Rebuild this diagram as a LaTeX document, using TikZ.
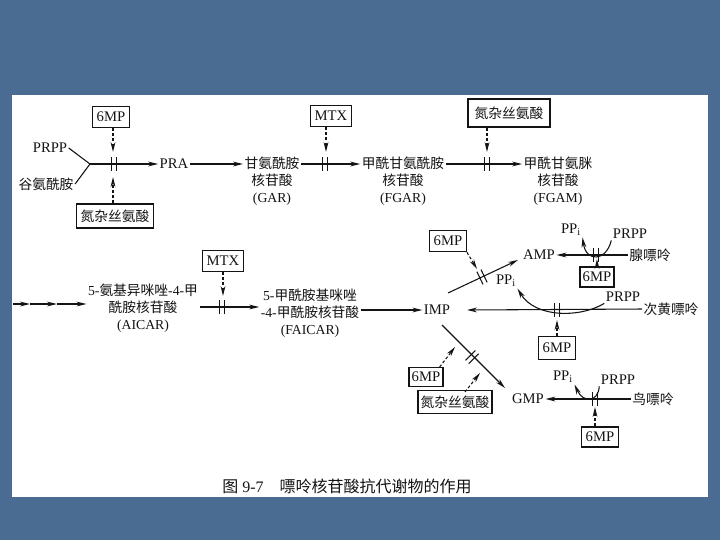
\documentclass[tikz,border=0pt]{standalone}
\usepackage{fontspec}
\setmainfont{Liberation Serif}
\newfontfamily\cjk{Noto Sans CJK SC}
\usetikzlibrary{arrows.meta}
\definecolor{slidebg}{RGB}{74,108,146}
\definecolor{ink}{RGB}{20,20,20}
\newcommand\zhtxt[1]{{\cjk #1}}
\begin{document}
\begin{tikzpicture}[x=0.75pt,y=-0.75pt,
  lat/.style={font=\fontsize{11}{12}\selectfont, text=ink, inner sep=1pt},
  cnl/.style={font=\cjk\fontsize{10.3}{12}\selectfont, text=ink, inner sep=1pt},
  multi/.style={font=\fontsize{10.3}{12.6}\selectfont, align=center, text=ink, inner sep=1pt},
  box/.style={draw=ink, line width=1pt, inner sep=3pt, minimum height=16pt, font=\fontsize{11}{12}\selectfont, text=ink},
  cbox/.style={box, font=\cjk\fontsize{10.3}{12}\selectfont},
  ln/.style={draw=ink, line width=0.8pt},
  arr/.style={ln, -{Stealth[length=7.5pt,width=3.6pt]}},
  darr/.style={arr, dash pattern=on 2.2pt off 1.6pt},
  blk/.pic={\draw[ink, line width=0.8pt] (-2.3,-7)--(-2.3,7) (2.3,-7)--(2.3,7);}
]
\useasboundingbox (0,0) rectangle (720,540);
\fill[slidebg] (0,0) rectangle (720,540);
\fill[white] (12,95) rectangle (708,497);

% ---------- row 1 ----------
\coordinate (row1) at (0,164);
\node[lat] (prpp1) at (50,148) {PRPP};
\node[cnl] (gln) at (46,184) {谷氨酰胺};
\coordinate (j) at (90,164);
\draw[ln] (prpp1.east) -- (j);
\draw[ln] (gln.east) -- (j);
\node[lat] (pra) at (174,164) {PRA};
\draw[arr] (j) -- (pra.west);
\pic at (114,164) {blk};
\node[box] (mp1) at (111,117) {6MP};
\coordinate (t1) at (113,152);
\draw[darr] (mp1.south -| t1) -- (t1);
\node[cbox, minimum height=18pt] (aza1) at (115,216) {氮杂丝氨酸};
\coordinate (u1) at (113,177);
\draw[darr] (aza1.north -| u1) -- (u1);

\node[multi] (gar) at (272,181) {\zhtxt{甘氨酰胺}\\\zhtxt{核苷酸}\\(GAR)};
\draw[arr] (pra.east) -- (gar.west |- row1);
\node[multi] (fgar) at (403,181) {\zhtxt{甲酰甘氨酰胺}\\\zhtxt{核苷酸}\\(FGAR)};
\draw[arr] (gar.east |- row1) -- (fgar.west |- row1);
\pic at (325,164) {blk};
\node[box] (mtx1) at (331,116) {MTX};
\coordinate (t2) at (326,152);
\draw[darr] (mtx1.south -| t2) -- (t2);

\node[multi] (fgam) at (558,181) {\zhtxt{甲酰甘氨脒}\\\zhtxt{核苷酸}\\(FGAM)};
\draw[arr] (fgar.east |- row1) -- (fgam.west |- row1);
\pic at (487,164) {blk};
\node[cbox, minimum height=21pt, inner sep=5pt] (aza2) at (509,113) {氮杂丝氨酸};
\coordinate (t3) at (487,152);
\draw[darr] (aza2.south -| t3) -- (t3);

% ---------- row 2 ----------
\node[multi] (aicar) at (143,308) {5-\zhtxt{氨基异咪唑}-4-\zhtxt{甲}\\\zhtxt{酰胺核苷酸}\\(AICAR)};
\coordinate (c0) at (13,304);
\coordinate (c1) at (30,304);
\coordinate (c2) at (57,304);
\draw[arr] (c0) -- (c1);
\draw[arr] (c1) -- (c2);
\draw[arr] (c2) -- (aicar.west |- c0);
\node[multi] (faicar) at (310,313) {5-\zhtxt{甲酰胺基咪唑}\\-4-\zhtxt{甲酰胺核苷酸}\\(FAICAR)};
\coordinate (row2) at (0,307);
\draw[arr] (aicar.east |- row2) -- (faicar.west |- row2);
\pic at (222,307) {blk};
\node[box] (mtx2) at (223,261) {MTX};
\coordinate (t4) at (223,296);
\draw[darr] (mtx2.south) -- (t4);

\node[lat] (imp) at (437,310) {IMP};
\draw[arr] (faicar.east |- imp) -- (imp.west);

% AMP branch
\node[lat] (amp) at (539,255) {AMP};
\coordinate (ia) at (448,293);
\coordinate (ib) at (518,260);
\draw[arr] (ia) -- (ib);
\pic[rotate=25.6] at (482,277) {blk};
\node[lat] (ppi1) at (506,281) {PP\textsubscript{i}};
\node[box] (mp2) at (448,241) {6MP};
\coordinate (t5) at (477,269);
\draw[darr] (mp2.south east) -- (t5);

\node[cnl] (ade) at (650,255) {腺嘌呤};
\draw[arr] (ade.west) -- (amp.east);
\pic at (596,255) {blk};
\node[lat] (ppiA) at (571,230) {PP\textsubscript{i}};
\node[lat] (prppA) at (630,234) {PRPP};
\draw[arr] (prppA.south west) .. controls (606,262) and (586,262) .. (ppiA.south east);
\node[box, minimum height=15pt, inner sep=2pt] (mpA) at (597,277) {6MP};
\coordinate (t6) at (597,259);
\draw[arr] (mpA.north) -- (t6);

% hypoxanthine
\node[cnl] (hx) at (671,309) {次黄嘌呤};
\coordinate (t7) at (467,310);
\draw[arr] (hx.west) -- (t7);
\pic at (557,310) {blk};
\node[lat] (prppB) at (623,297) {PRPP};
\draw[arr] (prppB.south west) .. controls (580,318) and (535,318) .. (ppi1.south east);
\node[box, minimum height=17pt] (mpB) at (557,348) {6MP};
\coordinate (t8) at (557,320);
\draw[darr] (mpB.north) -- (t8);

% GMP branch
\node[lat] (gmp) at (528,399) {GMP};
\coordinate (ga) at (442,325);
\coordinate (gb) at (505,388);
\draw[arr] (ga) -- (gb);
\pic[rotate=-45] at (472,357) {blk};
\node[box, minimum height=14pt, inner sep=2pt] (mp3) at (426,377) {6MP};
\coordinate (t9) at (455,347);
\draw[darr] (mp3.north east) ++(-4,0) -- (t9);
\node[cbox, minimum height=17pt, inner sep=2pt] (aza3) at (455,402) {氮杂丝氨酸};
\coordinate (t10) at (480,373);
\coordinate (s10) at (465,392);
\draw[darr] (s10) -- (t10);

\node[cnl] (gua) at (653,399) {鸟嘌呤};
\draw[arr] (gua.west) -- (gmp.east);
\pic at (595,399) {blk};
\node[lat] (ppiC) at (563,377) {PP\textsubscript{i}};
\node[lat] (prppC) at (618,380) {PRPP};
\draw[arr] (prppC.south west) .. controls (598,403) and (583,403) .. (ppiC.south east);
\node[box, minimum height=15pt] (mpC) at (600,437) {6MP};
\coordinate (t11) at (595,407);
\draw[darr] (mpC.north -| t11) -- (t11);

% caption
\node[font=\fontsize{12}{14}\selectfont, text=ink] (cap) at (347,486) {\zhtxt{图} 9-7\quad \zhtxt{嘌呤核苷酸抗代谢物的作用}};
\end{tikzpicture}
\end{document}
